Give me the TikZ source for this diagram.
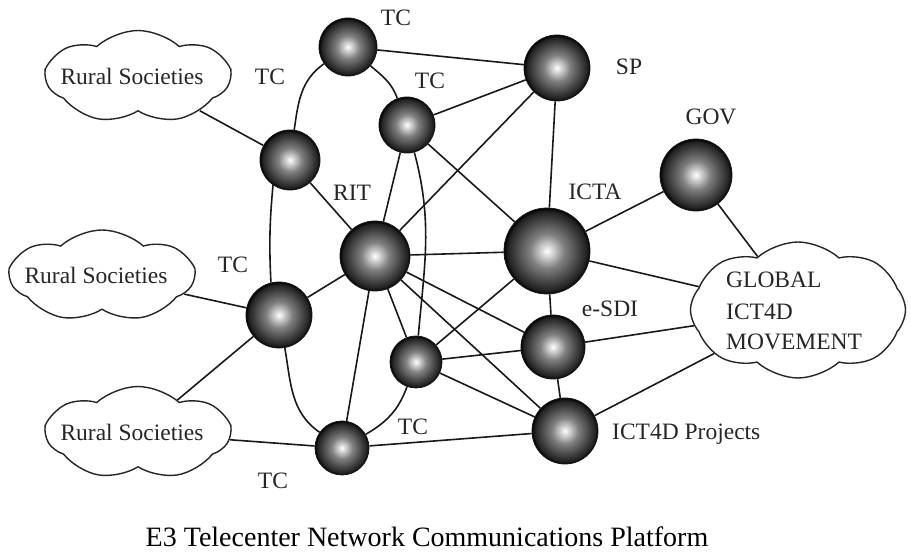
\documentclass[tikz,border=0pt]{standalone}
\usepackage{fontspec}
\setmainfont{Liberation Serif}
\usetikzlibrary{shapes.symbols}
\pgfdeclareradialshading{spherefill}{\pgfpoint{0bp}{0bp}}{color(0bp)=(white); color(2bp)=(white!90!black); color(10bp)=(white!50!black); color(18bp)=(white!27!black); color(23bp)=(white!13!black); color(25bp)=(black); color(50bp)=(black)}
\begin{document}
\begin{tikzpicture}[x=1pt,y=1pt,
  sph/.style={circle, inner sep=0pt, shading=spherefill, draw=black!90, line width=0.8pt, minimum size=#1},
  conn/.style={line width=1.6pt, black!90},
  cloudbox/.style={cloud, cloud puffs=7, cloud puff arc=85, cloud ignores aspect, draw=black!85, line width=1.4pt, inner sep=0pt, fill=white},
  lbl/.style={font=\fontsize{23.5}{28}\selectfont, inner sep=0pt, text height=15.5pt, text depth=0pt, black!85},
  ttl/.style={font=\fontsize{28}{32}\selectfont, inner sep=0pt, text height=19pt, text depth=0pt, black}
]
\useasboundingbox[fill=white] (0,0) rectangle (911,554);

% clouds
\node[cloudbox, minimum width=183pt, minimum height=93pt] (r1) at (138,477) {};
\node[cloudbox, minimum width=183pt, minimum height=92pt] (r2) at (102,278) {};
\node[cloudbox, minimum width=183pt, minimum height=93pt] (r3) at (138,121) {};
\node[cloudbox, cloud puffs=8, minimum width=215pt, minimum height=136pt] (glob) at (798,244) {};

% spheres
\node[sph=58pt] (tA) at (348,507) {};
\node[sph=60pt] (tB) at (290,394) {};
\node[sph=56pt] (tC) at (407,429) {};
\node[sph=66pt] (sp) at (557,486) {};
\node[sph=72pt] (gov) at (696,379) {};
\node[sph=86pt] (icta) at (547,303) {};
\node[sph=70pt] (rit) at (375,298) {};
\node[sph=66pt] (tD) at (279,239) {};
\node[sph=52pt] (tE) at (416,192) {};
\node[sph=64pt] (esdi) at (553,207) {};
\node[sph=66pt] (proj) at (565,123) {};
\node[sph=54pt] (tF) at (342,106) {};

% connectors
\draw[conn] (r1) -- (tB);
\draw[conn] (tB) to[out=82, in=215] (tA);
\draw[conn] (tA) to[out=-40, in=110] (tC);
\draw[conn] (tA) -- (sp);
\draw[conn] (tC) -- (sp);
\draw[conn] (tC) -- (rit);
\draw[conn] (tC) to[out=-75, in=85] (tE);
\draw[conn] (tC) -- (icta);
\draw[conn] (sp) -- (rit);
\draw[conn] (sp) -- (icta);
\draw[conn] (tB.-124) to[bend right=4] (tD.104);
\draw[conn] (tB) -- (rit);
\draw[conn] (r2) -- (tD);
\draw[conn] (tD) -- (rit);
\draw[conn] (tD) -- (r3);
\draw[conn] (tD) to[out=-80, in=145] (tF);
\draw[conn] (rit) -- (tF);
\draw[conn] (rit) -- (tE);
\draw[conn] (rit) -- (icta);
\draw[conn] (rit) -- (esdi);
\draw[conn] (rit) -- (proj);
\draw[conn] (tE) -- (icta);
\draw[conn] (tE) -- (esdi);
\draw[conn] (tE) -- (proj);
\draw[conn] (tE) to[out=-110, in=30] (tF);
\draw[conn] (r3) -- (tF);
\draw[conn] (tF) -- (proj);
\draw[conn] (icta) -- (esdi);
\draw[conn] (esdi) -- (proj);
\draw[conn] (icta) -- (gov);
\draw[conn] (icta) -- (glob);
\draw[conn] (esdi) -- (glob);
\draw[conn] (proj) -- (glob);
\draw[conn] (gov) -- (glob);

% cloud texts
\node[lbl] (r1t) at (132,477) {Rural Societies};
\node[lbl] (r2t) at (96,278) {Rural Societies};
\node[lbl] (r3t) at (132,121) {Rural Societies};
\node[lbl, anchor=west] (g1) at (726,274) {GLOBAL};
\node[lbl, anchor=west] (g2) at (726,242) {ICT4D};
\node[lbl, anchor=west] (g3) at (726,212) {MOVEMENT};

% labels
\node[lbl] (lA) at (396,536) {TC};
\node[lbl] (lB) at (270,477) {TC};
\node[lbl] (lC) at (430,473) {TC};
\node[lbl] (lR) at (352,361) {RIT};
\node[lbl] (lD) at (233,289) {TC};
\node[lbl] (lI) at (595,362) {ICTA};
\node[lbl] (lS) at (629,487) {SP};
\node[lbl] (lG) at (711,437) {GOV};
\node[lbl] (lE) at (610,245) {e-SDI};
\node[lbl, anchor=west] (lP) at (612,122) {ICT4D Projects};
\node[lbl] (lT) at (413,127) {TC};
\node[lbl] (lF) at (273,73) {TC};

\node[ttl] (title) at (427,17) {E3 Telecenter Network Communications Platform};
\end{tikzpicture}
\end{document}
